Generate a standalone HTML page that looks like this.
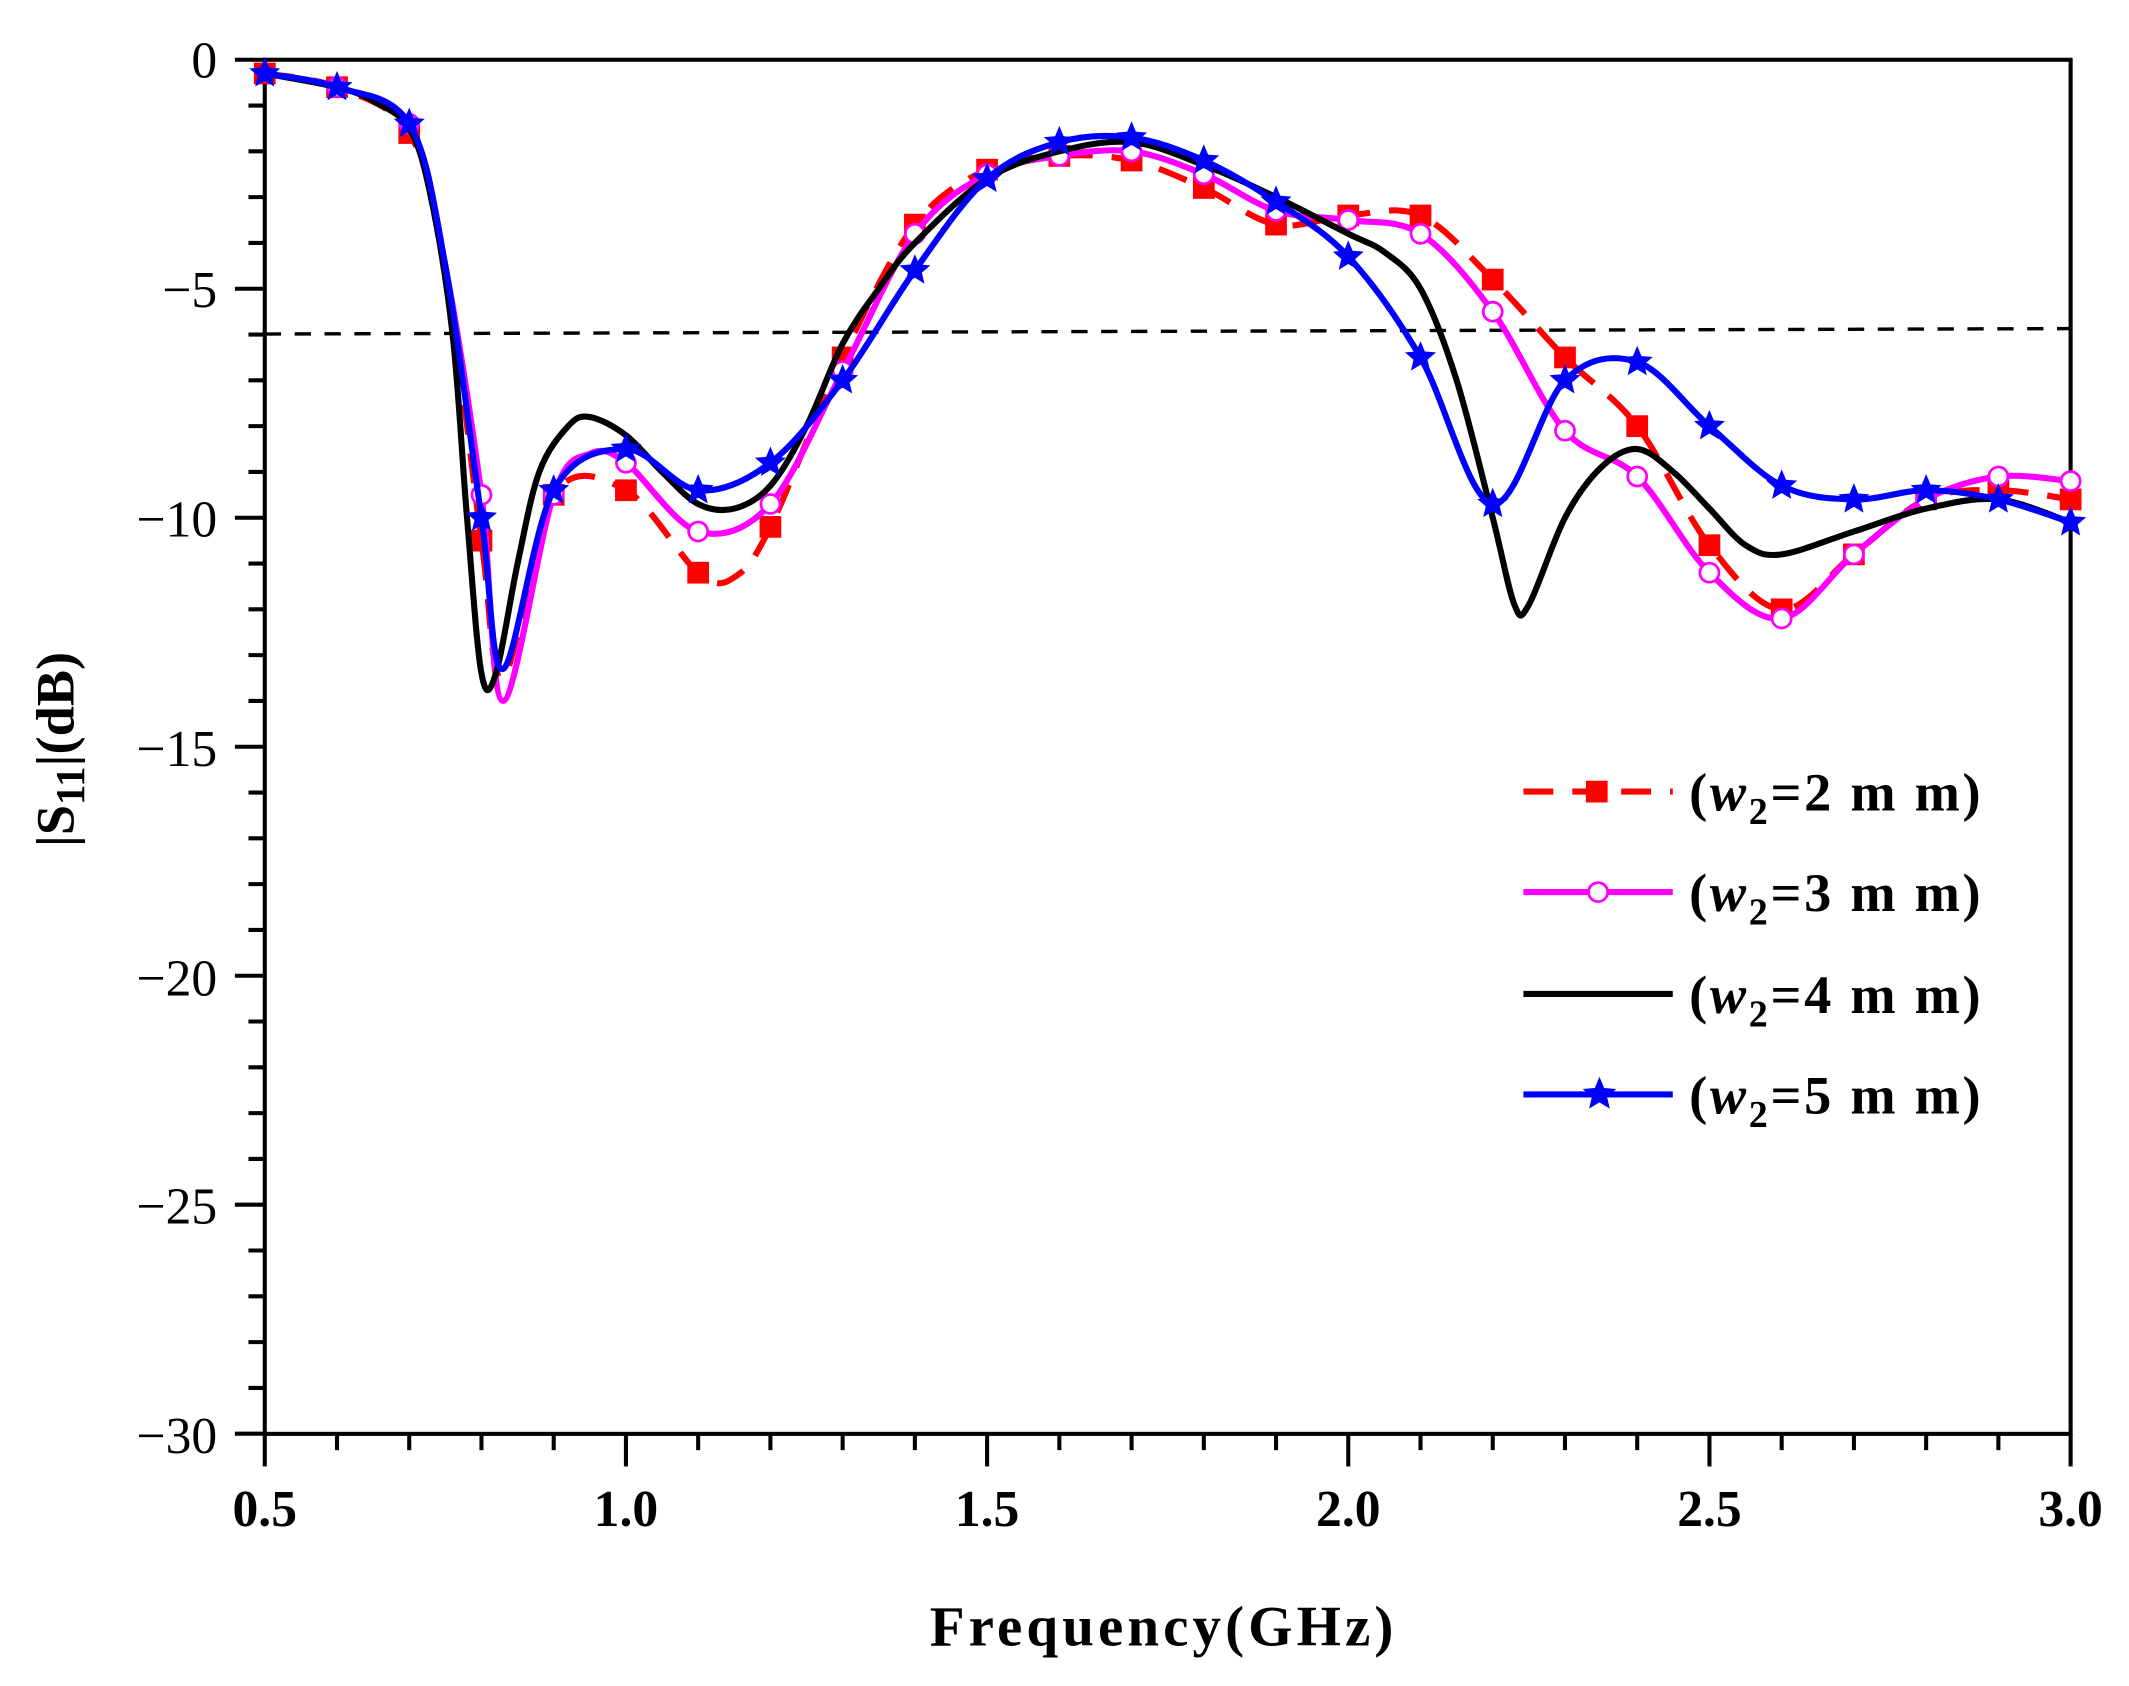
<!DOCTYPE html>
<html><head><meta charset="utf-8"><style>
html,body{margin:0;padding:0;background:#fff;}
svg{display:block;}
text{font-family:"Liberation Serif",serif;}
</style></head><body>
<svg id="s" width="2129" height="1686" viewBox="0 0 1568 1241.7" preserveAspectRatio="none" xmlns="http://www.w3.org/2000/svg">
<rect width="1568" height="1242" fill="#fff"/>
<g id="axes" stroke="#000" stroke-width="3" fill="none">
<rect x="195" y="44" width="1330" height="1012"/>
</g>
<g id="ticks" stroke="#000" stroke-width="3"></g>
<line x1="195" y1="246" x2="1525" y2="242" stroke="#000" stroke-width="2.5" stroke-dasharray="12,10"/>
<g id="series"></g>
<g font-size="38" text-anchor="end" fill="#000">
<text x="160" y="57">0</text>
<text x="160" y="226">−5</text>
<text x="160" y="395">−10</text>
<text x="160" y="564">−15</text>
<text x="160" y="733">−20</text>
<text x="160" y="901">−25</text>
<text x="160" y="1070">−30</text>
</g>
<g font-size="38" text-anchor="middle" font-weight="bold" fill="#000">
<text x="195" y="1124">0.5</text>
<text x="461" y="1124">1.0</text>
<text x="727" y="1124">1.5</text>
<text x="993" y="1124">2.0</text>
<text x="1259" y="1124">2.5</text>
<text x="1525" y="1124">3.0</text>
</g>
<text x="857" y="1212" font-size="42" font-weight="bold" text-anchor="middle" letter-spacing="3">Frequency(GHz)</text>
<text transform="translate(54,552) rotate(-90)" font-size="40" font-weight="bold" text-anchor="middle">|S<tspan font-size="30" dy="8">11</tspan><tspan dy="-8">|(dB)</tspan></text>
<g id="legend" font-size="40" font-weight="bold" letter-spacing="2"></g>
</svg>
<script>
var X=function(f){return 195+(f-0.5)*532;},Y=function(d){return 44-d*33.73;};
var ns="http://www.w3.org/2000/svg";
function el(t,a,p){var e=document.createElementNS(ns,t);for(var k in a)e.setAttribute(k,a[k]);(p||document.getElementById('series')).appendChild(e);return e;}
var tk=document.getElementById('ticks');
for(var d=0;d>=-30;d--){var maj=d%5==0;el('line',{x1:195,x2:195-(maj?22:12),y1:Y(d),y2:Y(d)},tk);}
for(var i=0;i<=25;i++){var f=0.5+i*0.1;var maj=i%5==0;el('line',{x1:X(f),x2:X(f),y1:1056,y2:1056+(maj?24:12)},tk);}
function path(pts){var P=pts.map(function(p){return [X(p[0]),Y(p[1])];});var s="M"+P[0][0]+","+P[0][1];
for(var i=0;i<P.length-1;i++){var p0=P[i-1]||P[i],p1=P[i],p2=P[i+1],p3=P[i+2]||P[i+1];
s+=" C"+(p1[0]+(p2[0]-p0[0])/6)+","+(p1[1]+(p2[1]-p0[1])/6)+" "+(p2[0]-(p3[0]-p1[0])/6)+","+(p2[1]-(p3[1]-p1[1])/6)+" "+p2[0]+","+p2[1];}return s;}
var red=[[0.5,-0.3],[0.6,-0.6],[0.7,-1.6],[0.75,-4.5],[0.8,-10.5],[0.83,-13.5],[0.9,-9.5],[1.0,-9.4],[1.1,-11.2],[1.15,-11.3],[1.2,-10.2],[1.3,-6.5],[1.4,-3.6],[1.5,-2.4],[1.6,-2.1],[1.7,-2.2],[1.8,-2.8],[1.9,-3.6],[2.0,-3.4],[2.1,-3.4],[2.2,-4.8],[2.3,-6.5],[2.4,-8],[2.5,-10.6],[2.6,-12],[2.7,-10.8],[2.8,-9.6],[2.9,-9.4],[3.0,-9.6]];
var mag=[[0.5,-0.3],[0.6,-0.6],[0.7,-1.4],[0.75,-4.5],[0.8,-9.5],[0.83,-14],[0.9,-9.5],[0.95,-8.6],[1.0,-8.8],[1.1,-10.3],[1.2,-9.7],[1.3,-6.8],[1.4,-3.8],[1.5,-2.5],[1.6,-2.1],[1.7,-2],[1.8,-2.5],[1.9,-3.3],[2.0,-3.5],[2.1,-3.8],[2.2,-5.5],[2.3,-8.1],[2.4,-9.1],[2.5,-11.2],[2.6,-12.2],[2.7,-10.8],[2.8,-9.6],[2.9,-9.1],[3.0,-9.2]];
var blk=[[0.5,-0.3],[0.6,-0.6],[0.65,-0.9],[0.7,-1.5],[0.73,-3],[0.76,-6],[0.78,-10],[0.8,-13.4],[0.82,-13.4],[0.85,-11],[0.88,-9],[0.92,-8],[0.95,-7.8],[1.0,-8.2],[1.05,-9],[1.1,-9.7],[1.15,-9.8],[1.2,-9.3],[1.25,-8],[1.3,-6.2],[1.35,-5],[1.4,-4],[1.5,-2.6],[1.6,-2],[1.7,-1.8],[1.8,-2.3],[1.9,-3],[2.0,-3.8],[2.05,-4.2],[2.1,-5],[2.15,-7],[2.2,-10],[2.23,-11.9],[2.25,-11.9],[2.3,-10],[2.35,-8.9],[2.4,-8.5],[2.45,-9],[2.5,-9.8],[2.55,-10.6],[2.6,-10.8],[2.7,-10.3],[2.8,-9.8],[2.9,-9.6],[3.0,-10.1]];
var blu=[[0.5,-0.3],[0.6,-0.6],[0.7,-1.4],[0.75,-4.5],[0.8,-10],[0.83,-13.3],[0.9,-9.4],[1.0,-8.5],[1.1,-9.4],[1.2,-8.8],[1.3,-7],[1.4,-4.6],[1.5,-2.6],[1.6,-1.8],[1.7,-1.7],[1.8,-2.2],[1.9,-3.1],[2.0,-4.3],[2.1,-6.5],[2.2,-9.7],[2.3,-7],[2.4,-6.6],[2.5,-8],[2.6,-9.3],[2.7,-9.6],[2.8,-9.4],[2.9,-9.6],[3.0,-10.1]];
function isTenth(f){return Math.abs(f*10-Math.round(f*10))<1e-6;}
function star(cx,cy,r,c,p){var s="";for(var i=0;i<10;i++){var a=-Math.PI/2+i*Math.PI/5,rr=i%2?r*0.45:r;s+=(i?"L":"M")+(cx+rr*Math.cos(a))+","+(cy+rr*Math.sin(a));}el('path',{d:s+"Z",fill:c},p);}
el('path',{d:path(red),stroke:'#f00','stroke-width':4.5,fill:'none','stroke-dasharray':'22,14'});
red.forEach(function(p){if(isTenth(p[0]))el('rect',{x:X(p[0])-8,y:Y(p[1])-8,width:16,height:16,fill:'#f00'});});
el('path',{d:path(mag),stroke:'#f0f','stroke-width':4.5,fill:'none'});
mag.forEach(function(p){if(isTenth(p[0])&&p[0]!=0.5)el('circle',{cx:X(p[0]),cy:Y(p[1]),r:7,fill:'#fff',stroke:'#f0f','stroke-width':2});});
el('path',{d:path(blk),stroke:'#000','stroke-width':4.5,fill:'none'});
el('path',{d:path(blu),stroke:'#00f','stroke-width':4.5,fill:'none'});
blu.forEach(function(p){if(isTenth(p[0]))star(X(p[0]),Y(p[1]),12,'#00f');});
var lg=document.getElementById('legend');
var ly=[583,657,732,806],lab=['2','3','4','5'];
el('line',{x1:1122,x2:1232,y1:583,y2:583,stroke:'#f00','stroke-width':4.5,'stroke-dasharray':'22,14'},lg);
el('rect',{x:1168,y:575,width:16,height:16,fill:'#f00'},lg);
el('line',{x1:1122,x2:1232,y1:657,y2:657,stroke:'#f0f','stroke-width':4.5},lg);
el('circle',{cx:1177,cy:657,r:7,fill:'#fff',stroke:'#f0f','stroke-width':2},lg);
el('line',{x1:1122,x2:1232,y1:732,y2:732,stroke:'#000','stroke-width':4.5},lg);
el('line',{x1:1122,x2:1232,y1:806,y2:806,stroke:'#00f','stroke-width':4.5},lg);
star(1178,806,13,'#00f',lg);
for(var i=0;i<4;i++){var t=el('text',{x:1244,y:ly[i]+14},lg);
t.innerHTML='(<tspan font-style="italic">w</tspan><tspan font-size="28" dy="10">2</tspan><tspan dy="-10">='+lab[i]+' m m)</tspan>';}
</script>
</body></html>
